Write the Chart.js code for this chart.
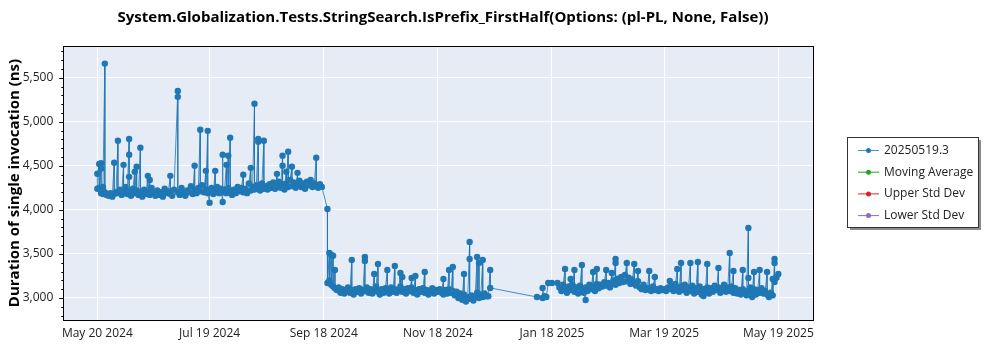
<!DOCTYPE html>
<html>
<head>
<meta charset="utf-8">
<script src="https://cdn.jsdelivr.net/npm/chart.js@4.4.0/dist/chart.umd.min.js"></script>
<style>
  html, body { margin: 0; padding: 0; background: #fff; }
  #wrap { width: 1000px; height: 350px; position: relative; }
</style>
</head>
<body>
<div id="wrap"><canvas id="chart"></canvas></div>
<script>
"use strict";

// Texts
const chartTitle = "System.Globalization.Tests.StringSearch.IsPrefix_FirstHalf(Options: (pl-PL, None, False))";
const yTitle = "Duration of single invocation (ns)";
const seriesNames = ["20250519.3", "Moving Average", "Upper Std Dev", "Lower Std Dev"];
const seriesColors = ["#1f77b4", "#2ca02c", "#d62728", "#9467bd"];

// Axis ticks
const tickDates = ["2024-05-20", "2024-07-19", "2024-09-18", "2024-11-18", "2025-01-18", "2025-03-19", "2025-05-19"];
const tickLabels = ["May 20 2024", "Jul 19 2024", "Sep 18 2024", "Nov 18 2024", "Jan 18 2025", "Mar 19 2025", "May 19 2025"];
const yTicks = [3000, 3500, 4000, 4500, 5000, 5500];

// Runs: one date per entry, every run of that date in durations (ns)
const runDates = [
  "2024-05-20","2024-05-21","2024-05-22","2024-05-23","2024-05-24","2024-05-25","2024-05-26","2024-05-27","2024-05-28","2024-05-29","2024-05-30","2024-05-31",
  "2024-06-01","2024-06-02","2024-06-03","2024-06-04","2024-06-05","2024-06-06","2024-06-07","2024-06-08","2024-06-09","2024-06-10",
  "2024-06-11","2024-06-12","2024-06-13","2024-06-14","2024-06-15","2024-06-16","2024-06-17","2024-06-18","2024-06-19","2024-06-20",
  "2024-06-21","2024-06-22","2024-06-23","2024-06-24","2024-06-25","2024-06-26","2024-06-27","2024-06-28","2024-06-29","2024-06-30",
  "2024-07-02","2024-07-03","2024-07-04","2024-07-05","2024-07-06","2024-07-07","2024-07-08","2024-07-09","2024-07-10",
  "2024-07-11","2024-07-12","2024-07-13","2024-07-14","2024-07-15","2024-07-16","2024-07-17","2024-07-18","2024-07-19","2024-07-20",
  "2024-07-21","2024-07-22","2024-07-23","2024-07-24","2024-07-25","2024-07-26","2024-07-27","2024-07-28","2024-07-29","2024-07-30","2024-07-31",
  "2024-08-01","2024-08-02","2024-08-03","2024-08-04","2024-08-05","2024-08-06","2024-08-07","2024-08-08","2024-08-09","2024-08-10",
  "2024-08-11","2024-08-12","2024-08-13","2024-08-14","2024-08-15","2024-08-16","2024-08-17","2024-08-18","2024-08-19","2024-08-20",
  "2024-08-21","2024-08-22","2024-08-23","2024-08-24","2024-08-25","2024-08-26","2024-08-27","2024-08-28","2024-08-29","2024-08-30","2024-08-31",
  "2024-09-01","2024-09-02","2024-09-03","2024-09-04","2024-09-05","2024-09-06","2024-09-07","2024-09-08","2024-09-09","2024-09-10",
  "2024-09-11","2024-09-12","2024-09-13","2024-09-14","2024-09-15","2024-09-16","2024-09-17",
  "2024-09-20","2024-09-21","2024-09-22","2024-09-23","2024-09-24","2024-09-25","2024-09-26","2024-09-27","2024-09-28","2024-09-29","2024-09-30",
  "2024-10-01","2024-10-02","2024-10-03","2024-10-04","2024-10-05","2024-10-06","2024-10-07","2024-10-08","2024-10-09","2024-10-10",
  "2024-10-11","2024-10-12","2024-10-13","2024-10-14","2024-10-15","2024-10-16","2024-10-17","2024-10-18","2024-10-19","2024-10-20",
  "2024-10-21","2024-10-22","2024-10-23","2024-10-24","2024-10-25","2024-10-26","2024-10-27","2024-10-28","2024-10-29","2024-10-30","2024-10-31",
  "2024-11-01","2024-11-02","2024-11-03","2024-11-04","2024-11-05","2024-11-06","2024-11-07","2024-11-08","2024-11-09","2024-11-10",
  "2024-11-11","2024-11-12","2024-11-13","2024-11-14","2024-11-15","2024-11-16","2024-11-17","2024-11-18","2024-11-19","2024-11-20",
  "2024-11-21","2024-11-22","2024-11-23","2024-11-24","2024-11-25","2024-11-26","2024-11-27","2024-11-28","2024-11-29","2024-11-30",
  "2024-12-01","2024-12-02","2024-12-03","2024-12-04","2024-12-05","2024-12-06","2024-12-07","2024-12-08","2024-12-09","2024-12-10",
  "2024-12-11","2024-12-12","2024-12-13","2024-12-14","2024-12-15","2024-12-16",
  "2025-01-10","2025-01-13","2025-01-14","2025-01-15","2025-01-16","2025-01-18","2025-01-21","2025-01-22","2025-01-23","2025-01-24",
  "2025-01-25","2025-01-26","2025-01-27","2025-01-28","2025-01-29","2025-01-30","2025-01-31",
  "2025-02-01","2025-02-02","2025-02-03","2025-02-04","2025-02-05","2025-02-06","2025-02-07","2025-02-08","2025-02-09","2025-02-10",
  "2025-02-11","2025-02-12","2025-02-13","2025-02-14","2025-02-15","2025-02-16","2025-02-17","2025-02-18","2025-02-19","2025-02-20",
  "2025-02-21","2025-02-22","2025-02-23","2025-02-24","2025-02-25","2025-02-26","2025-02-27","2025-02-28",
  "2025-03-01","2025-03-02","2025-03-03","2025-03-04","2025-03-05","2025-03-06","2025-03-07","2025-03-08","2025-03-09","2025-03-10",
  "2025-03-11","2025-03-12","2025-03-13","2025-03-14","2025-03-15","2025-03-16","2025-03-17","2025-03-18","2025-03-19","2025-03-20",
  "2025-03-21","2025-03-22","2025-03-23","2025-03-24","2025-03-25","2025-03-26","2025-03-27","2025-03-28","2025-03-29","2025-03-30","2025-03-31",
  "2025-04-01","2025-04-02","2025-04-03","2025-04-04","2025-04-05","2025-04-06","2025-04-07","2025-04-08","2025-04-09","2025-04-10",
  "2025-04-11","2025-04-12","2025-04-13","2025-04-14","2025-04-15","2025-04-16","2025-04-17","2025-04-18","2025-04-19","2025-04-20",
  "2025-04-21","2025-04-22","2025-04-23","2025-04-24","2025-04-25","2025-04-26","2025-04-27","2025-04-28","2025-04-29","2025-04-30",
  "2025-05-01","2025-05-02","2025-05-03","2025-05-04","2025-05-05","2025-05-06","2025-05-07","2025-05-08","2025-05-09","2025-05-10",
  "2025-05-11","2025-05-12","2025-05-13","2025-05-14","2025-05-15","2025-05-16","2025-05-17","2025-05-18","2025-05-19"
];

const durations = [
  [4240,4410],[4520,4250],[4470,4530,4190],[4180,4260],[5660,4200],[4170],[4160],[4190],[4150],[4534,4180],[4200],[4784,4190],
  [4230],[4170],[4511,4200],[4260],[4180],[4805,4625,4375,4210],[4160],[4240],[4432,4190],[4490,4220],
  [4170],[4705,4200],[4150],[4230],[4180],[4386,4200],[4340,4170],[4250],[4190],[4160],
  [4220],[4170],[4200],[4150],[4240],[4190],[4210],[4386,4180],[4160],[4230],
  [5350,5283,4200],[4170],[4250],[4190],[4160],[4220],[4200],[4270],[4180],
  [4500,4230],[4190],[4250],[4909,4210],[4280],[4200],[4443,4230],[4897,4190],[4080,4220],[4250],
  [4180],[4443,4210],[4260],[4190],[4240],[4090,4625,4200],[4230],[4511,4190],[4614,4250],[4818,4200],[4170],
  [4230],[4190],[4260],[4210],[4250],[4398,4200],[4240],[4190],[4300],[4477,4220],
  [4260],[5205,4230],[4280],[4806,4773,4250],[4220],[4300],[4784,4240],[4270],[4230],[4290],
  [4250],[4310],[4240],[4409,4280],[4320],[4250],[4614,4500,4290],[4230],[4432,4300],[4659,4260],[4340],
  [4489,4270],[4310],[4250],[4420,4290],[4330],[4260],[4300],[4240],[4320],[4280],
  [4340],[4260],[4300],[4591,4280],[4250],[4290],[4261],
  [4010,3170],[3511,3200],[3490,3150],[3480,3130],[3318,3110],[3090],[3120],[3060],[3100],[3050],[3080],
  [3120],[3060],[3432,3090],[3040],[3100],[3070],[3110],[3050],[3090],[3466,3420,3080],
  [3120],[3060],[3100],[3050],[3273,3090],[3130],[3386,3070],[3040],[3100],[3060],
  [3110],[3318,3080],[3050],[3120],[3070],[3364,3100],[3060],[3090],[3284,3130],[3239,3070],[3100],
  [3050],[3110],[3080],[3227,3120],[3060],[3250,3090],[3040],[3100],[3070],[3110],
  [3295,3060],[3090],[3040],[3080],[3110],[3050],[3090],[3070],[3100],[3060],
  [3216,3040],[3090],[3050],[3318,3100],[3060],[3352,3080],[3030],[3070],[3000],[3050],
  [2980],[3273,3040],[2960],[3010],[3636,3443,2990],[3030],[2970],[3020],[3466,3060],[3398,3000],
  [3040],[3432,3010],[3050],[3020],[3020],[3318,3114],
  [3011],[3000,3114],[3020],[3011],[3170],[3170],[3170],[3120],[3080],[3150],
  [3330,3100],[3060],[3130],[3216,3090],[3150],[3318,3070],[3120],
  [3050],[3140],[3375,3100],[3060],[2977,3120],[3080],[3150],[3100],[3295,3130],[3080],
  [3330,3160],[3110],[3150],[3130],[3180],[3318,3140],[3170],[3120],[3284,3160],[3200],
  [3443,3398,3150],[3220],[3170],[3240],[3180],[3260],[3398,3190],[3230],
  [3160],[3210],[3386,3170],[3140],[3307,3190],[3120],[3100],[3150],[3090],[3110],
  [3307,3100],[3080],[3130],[3239,3090],[3100],[3080],[3110],[3090],[3100],[3080],
  [3120],[3193,3100],[3140],[3080],[3160],[3330,3110],[3070],[3398,3130],[3090],[3150],[3060],
  [3120],[3398,3080],[3140],[3050],[3110],[3409,3070],[3130],[3040],[3023,3100],[3060],
  [3386,3120],[3050],[3110],[3070],[3140],[3090],[3341,3120],[3060],[3100],[3150],
  [3070],[3120],[3511,3080],[3130],[3307,3060],[3110],[3050],[3090],[3040],[3318,3100],
  [3070],[3030],[3795,3227,3080],[3120],[3011,3060],[3295,3100],[3040],[3090],[3318,3060],[3110],
  [3050],[3080],[3295,3040],[3011],[3060],[3216,3030],[3443,3398,3180],[3230],[3273]
];

// x axis is in days counted from the first tick date
const DAY = 86400000;
const t0 = Date.parse(tickDates[0]);
const toDay = s => (Date.parse(s) - t0) / DAY;

const points = [];
runDates.forEach((d, i) => {
    durations[i].forEach(v => points.push({ x: toDay(d), y: v }));
});
const tickDays = tickDates.map(toDay);

const FONT = "'Open Sans', 'Noto Sans', sans-serif";

// plot background, frame, minor ticks, title and boxed legend
const decor = {
    id: "decor",
    beforeDraw(chart) {
        const { ctx, chartArea: a } = chart;
        ctx.save();
        ctx.fillStyle = "#ffffff";
        ctx.fillRect(0, 0, chart.width, chart.height);
        ctx.fillStyle = "#e5ecf6";
        ctx.fillRect(a.left, a.top, a.right - a.left, a.bottom - a.top);
        ctx.restore();
    },
    afterDraw(chart) {
        const { ctx, chartArea: a } = chart;
        const ys = chart.scales.y;
        ctx.save();

        // frame
        ctx.strokeStyle = "#000";
        ctx.lineWidth = 1;
        ctx.strokeRect(Math.round(a.left) + 0.5, Math.round(a.top) + 0.5,
            Math.round(a.right - a.left), Math.round(a.bottom - a.top));

        // minor ticks every 100 ns on the y axis
        ctx.beginPath();
        for (let v = Math.ceil(ys.min / 100) * 100; v <= ys.max; v += 100) {
            const y = Math.round(ys.getPixelForValue(v)) + 0.5;
            const len = v % 500 === 0 ? 4 : 2;
            ctx.moveTo(a.left - len, y);
            ctx.lineTo(a.left, y);
        }
        ctx.stroke();

        // title
        ctx.fillStyle = "#000";
        ctx.font = "bold 15px " + FONT;
        ctx.textAlign = "center";
        ctx.textBaseline = "middle";
        ctx.fillText(chartTitle, 443, 18);

        // legend
        const lx = 847, ly = 137, lw = 131, lh = 90;
        ctx.fillStyle = "rgba(0,0,0,0.45)";
        ctx.fillRect(lx + 3, ly + 3, lw, lh);
        ctx.fillStyle = "#fff";
        ctx.fillRect(lx, ly, lw, lh);
        ctx.strokeStyle = "#333";
        ctx.strokeRect(lx + 0.5, ly + 0.5, lw, lh);
        ctx.font = "12px " + FONT;
        ctx.textAlign = "left";
        chart.data.datasets.forEach((ds, i) => {
            const y = ly + 13.5 + i * 21.7;
            ctx.strokeStyle = ds.borderColor;
            ctx.lineWidth = 1;
            ctx.beginPath();
            ctx.moveTo(858, y);
            ctx.lineTo(879, y);
            ctx.stroke();
            ctx.fillStyle = ds.pointBackgroundColor;
            ctx.beginPath();
            ctx.arc(868.5, y, 2.5, 0, Math.PI * 2);
            ctx.fill();
            ctx.fillStyle = "#222";
            ctx.fillText(ds.label, 884, y);
        });
        ctx.restore();
    }
};

const datasets = seriesNames.map((name, i) => ({
    label: name,
    data: i === 0 ? points : [],
    borderColor: seriesColors[i],
    pointBackgroundColor: seriesColors[i],
    pointBorderWidth: 0,
    pointRadius: 3.2,
    borderWidth: 1,
    tension: 0
}));
datasets[0].borderColor = "rgba(31,119,180,0.8)";

new Chart(document.getElementById("chart"), {
    type: "line",
    data: { datasets: datasets },
    plugins: [decor],
    options: {
        responsive: true,
        maintainAspectRatio: false,
        animation: false,
        parsing: false,
        layout: { padding: { left: 0, right: 186.7, top: 46, bottom: 0 } },
        plugins: {
            legend: { display: false },
            tooltip: { enabled: false }
        },
        scales: {
            x: {
                type: "linear",
                min: -18.2,
                max: 382.7,
                afterFit: s => { s.height = 30; },
                afterBuildTicks: s => { s.ticks = tickDays.map(v => ({ value: v })); },
                grid: { color: "#ffffff", lineWidth: 1, drawTicks: false },
                border: { display: false },
                ticks: {
                    padding: 6,
                    color: "#222",
                    font: { family: FONT, size: 12 },
                    maxRotation: 0,
                    autoSkip: false,
                    callback: (v, i) => tickLabels[i]
                }
            },
            y: {
                min: 2750,
                max: 5860,
                afterFit: s => { s.width = 63.3; },
                afterBuildTicks: s => { s.ticks = yTicks.map(v => ({ value: v })); },
                grid: { color: "#ffffff", lineWidth: 1, drawTicks: false },
                border: { display: false },
                ticks: {
                    padding: 10,
                    color: "#222",
                    font: { family: FONT, size: 12 },
                    callback: v => v.toLocaleString("en-US")
                },
                title: {
                    display: true,
                    text: yTitle,
                    color: "#000",
                    font: { family: FONT, size: 15, weight: "bold" },
                    padding: { top: 6, bottom: 4 }
                }
            }
        }
    }
});
</script>
</body>
</html>
